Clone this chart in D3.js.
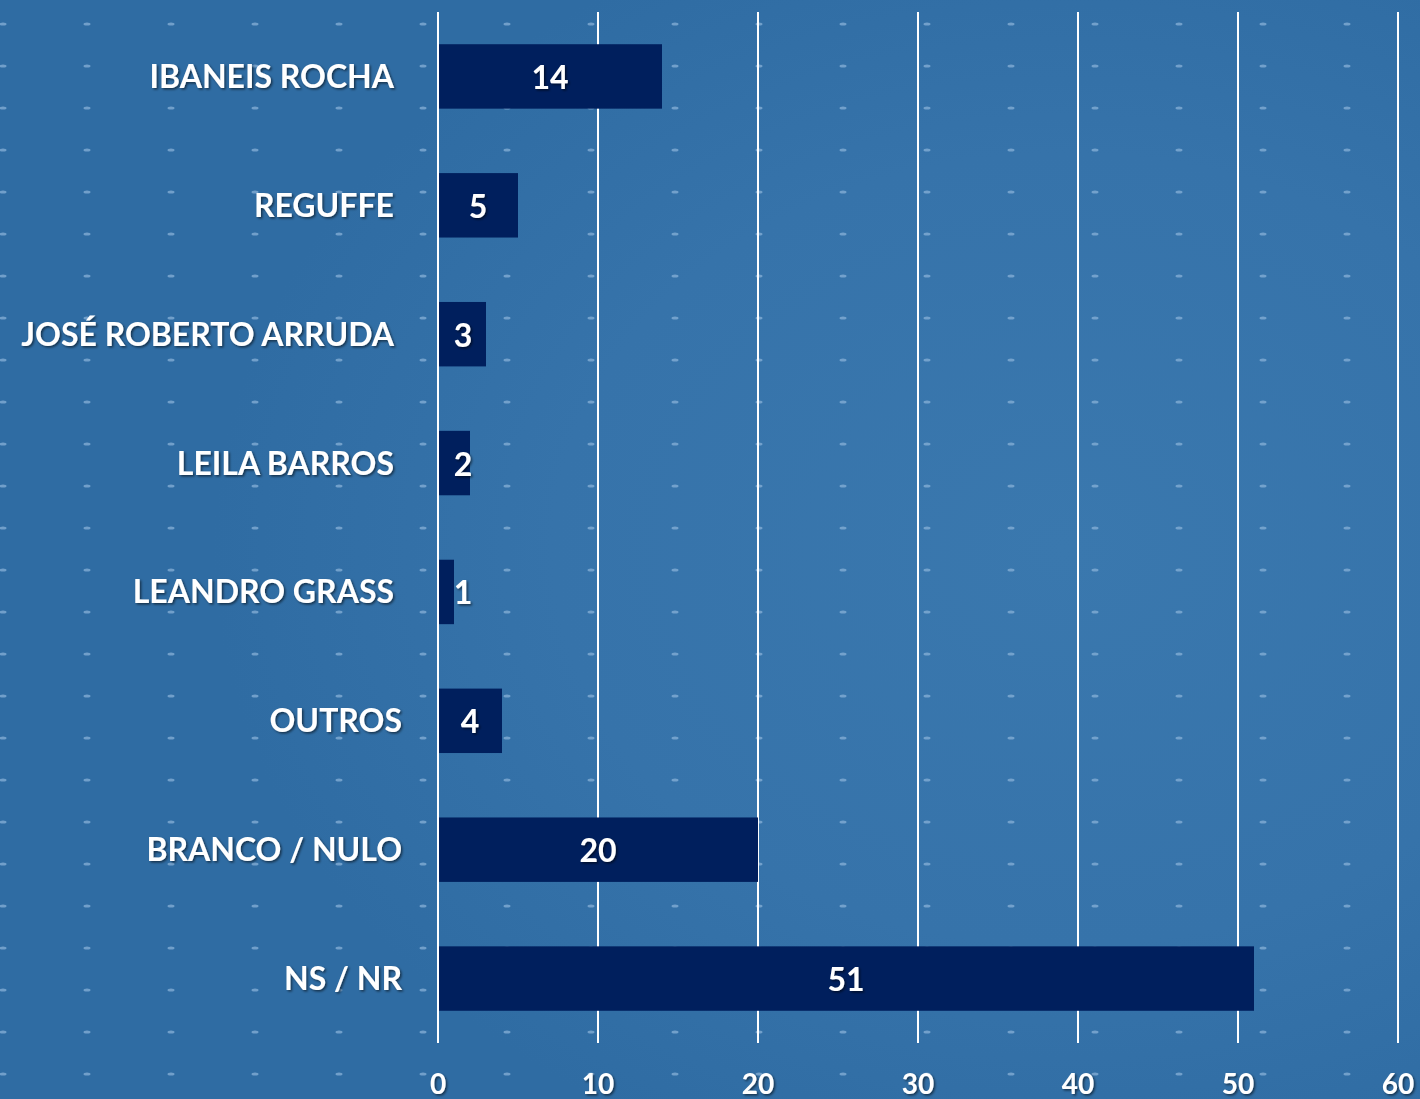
<!DOCTYPE html>
<html>
<head>
<meta charset="utf-8">
<script src="https://cdn.jsdelivr.net/npm/d3@7"></script>
<style>
  html, body { margin: 0; padding: 0; background: #3170a6; }
  svg { display: block; }
  text { font-family: Lato, "Open Sans", sans-serif; font-weight: 700; fill: #ffffff; }
</style>
</head>
<body>
<svg></svg>
<script>
// data
const candidates = ["IBANEIS ROCHA", "REGUFFE", "JOSÉ ROBERTO ARRUDA", "LEILA BARROS",
  "LEANDRO GRASS", "OUTROS", "BRANCO / NULO", "NS / NR"];
const votes = [14, 5, 3, 2, 1, 4, 20, 51];
const xTicks = [0, 10, 20, 30, 40, 50, 60];

const width = 1420, height = 1099;
const svg = d3.select("svg").attr("width", width).attr("height", height);
const defs = svg.append("defs");

// background gradient
const bg = defs.append("radialGradient").attr("id", "bg")
  .attr("cx", 0.75).attr("cy", 0.5).attr("r", 0.6);
bg.append("stop").attr("offset", "0%").attr("stop-color", "#3a78ae");
bg.append("stop").attr("offset", "60%").attr("stop-color", "#3673aa");
bg.append("stop").attr("offset", "100%").attr("stop-color", "#2f6ca3");

// little dash pattern
const pat = defs.append("pattern").attr("id", "dots")
  .attr("patternUnits", "userSpaceOnUse")
  .attr("width", 84).attr("height", 42)
  .attr("x", -1).attr("y", 2);
pat.append("ellipse").attr("cx", 4).attr("cy", 22).attr("rx", 3.5).attr("ry", 1.6)
  .attr("fill", "#86b0d6").attr("opacity", 0.75);

// text shadow
const sh = defs.append("filter").attr("id", "shadow")
  .attr("x", "-10%").attr("y", "-20%").attr("width", "130%").attr("height", "150%");
sh.append("feDropShadow").attr("dx", 1.5).attr("dy", 1.5).attr("stdDeviation", 1.2)
  .attr("flood-color", "#000").attr("flood-opacity", 0.55);

svg.append("rect").attr("width", width).attr("height", height).attr("fill", "url(#bg)");
svg.append("rect").attr("width", width).attr("height", height).attr("fill", "url(#dots)");

// scales
const x = d3.scaleLinear().domain([0, 60]).range([438, 1398]);
const y = d3.scaleBand().domain(candidates).range([12, 1043]).paddingInner(0.5).paddingOuter(0.25);

// gridlines
svg.append("g")
  .selectAll("line")
  .data(xTicks)
  .enter()
  .append("line")
  .attr("x1", d => x(d)).attr("x2", d => x(d))
  .attr("y1", 12).attr("y2", 1043)
  .attr("stroke", "#ffffff")
  .attr("stroke-width", 2);

// bars
svg.append("g")
  .selectAll("rect")
  .data(votes)
  .enter()
  .append("rect")
  .attr("x", x(0) + 1)
  .attr("y", (d, i) => y(candidates[i]))
  .attr("width", d => x(d) - x(0) - 1)
  .attr("height", y.bandwidth())
  .attr("fill", "#001f5d");

// value labels
svg.append("g")
  .selectAll("text")
  .data(votes)
  .enter()
  .append("text")
  .attr("x", d => Math.max((x(0) + x(d)) / 2, x(0) + 25))
  .attr("y", (d, i) => y(candidates[i]) + y.bandwidth() / 2 + 1)
  .attr("dy", "0.36em")
  .attr("text-anchor", "middle")
  .attr("font-size", 32)
  .attr("filter", "url(#shadow)")
  .text(d => d);

// category labels
svg.append("g")
  .selectAll("text")
  .data(candidates)
  .enter()
  .append("text")
  .attr("x", (d, i) => (i < 5 ? 394 : 402))
  .attr("y", d => y(d) + y.bandwidth() / 2)
  .attr("dy", "0.36em")
  .attr("text-anchor", "end")
  .attr("font-size", 32)
  .attr("filter", "url(#shadow)")
  .text(d => d);

// x axis labels
svg.append("g")
  .selectAll("text")
  .data(xTicks)
  .enter()
  .append("text")
  .attr("x", d => x(d))
  .attr("y", 1094)
  .attr("text-anchor", "middle")
  .attr("font-size", 28)
  .attr("filter", "url(#shadow)")
  .text(d => d);
</script>
</body>
</html>
